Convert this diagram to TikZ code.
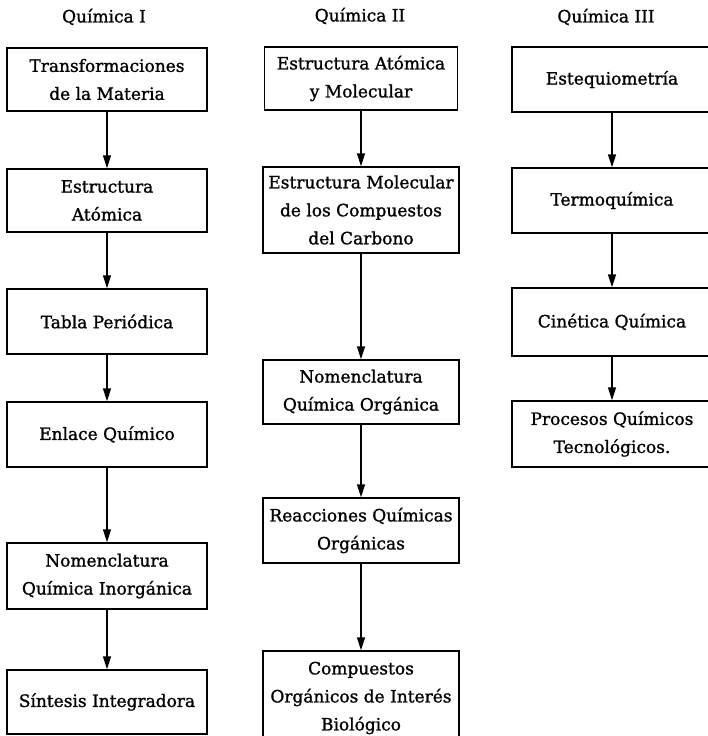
\documentclass[tikz,border=0pt]{standalone}
\usepackage{fontspec}
\setmainfont{DejaVu Serif}[RawFeature={embolden=1.2}]
\usetikzlibrary{arrows.meta}
\begin{document}
\begin{tikzpicture}[x=1pt,y=-1pt,
  box/.style={draw, line width=1.5pt, align=center, inner sep=0pt,
    font=\fontsize{17}{28}\selectfont},
  title/.style={font=\fontsize{17}{20}\selectfont},
  arr/.style={line width=1.5pt, -{Triangle[length=13pt,width=8pt]}}]
\useasboundingbox[fill=white] (0,0) rectangle (708,736);

% column titles
\node[title] (t1) at (104,17) {Química I};
\node[title] (t2) at (360,16) {Química II};
\node[title] (t3) at (606,17) {Química III};

% Química I
\node[box, minimum width=200pt, minimum height=63pt] (a1) at (107,79.5) {Transformaciones\\de la Materia};
\node[box, minimum width=200pt, minimum height=63pt] (a2) at (107,200.5) {Estructura\\Atómica};
\node[box, minimum width=200pt, minimum height=65pt] (a3) at (107,321.5) {Tabla Periódica};
\node[box, minimum width=200pt, minimum height=65pt] (a4) at (107,434.5) {Enlace Químico};
\node[box, minimum width=200pt, minimum height=66pt] (a5) at (107,576) {Nomenclatura\\Química Inorgánica};
\node[box, minimum width=200pt, minimum height=64pt] (a6) at (107,702) {Síntesis Integradora};

% Química II
\node[box, minimum width=193pt, minimum height=63pt] (b1) at (361,78.5) {Estructura Atómica\\y Molecular};
\node[box, minimum width=196pt, minimum height=86pt] (b2) at (361,210) {Estructura Molecular\\de los Compuestos\\del Carbono};
\node[box, minimum width=196pt, minimum height=64pt] (b3) at (361,392) {Nomenclatura\\Química Orgánica};
\node[box, minimum width=196pt, minimum height=65pt] (b4) at (361,530.5) {Reacciones Químicas\\Orgánicas};
\node[box, minimum width=196pt, minimum height=94pt] (b5) at (361,698) {Compuestos\\Orgánicos de Interés\\Biológico};

% Química III
\node[box, minimum width=200pt, minimum height=65pt] (c1) at (612,79.5) {Estequiometría};
\node[box, minimum width=200pt, minimum height=65pt] (c2) at (612,200.5) {Termoquímica};
\node[box, minimum width=200pt, minimum height=68pt] (c3) at (612,322) {Cinética Química};
\node[box, minimum width=200pt, minimum height=66pt] (c4) at (612,434) {Procesos Químicos\\Tecnológicos.};

% connectors
\foreach \u/\v in {a1/a2,a2/a3,a3/a4,a4/a5,a5/a6,
                   b1/b2,b2/b3,b3/b4,b4/b5,
                   c1/c2,c2/c3,c3/c4}
  \draw[arr] (\u.south) -- (\v.north);
\end{tikzpicture}
\end{document}
